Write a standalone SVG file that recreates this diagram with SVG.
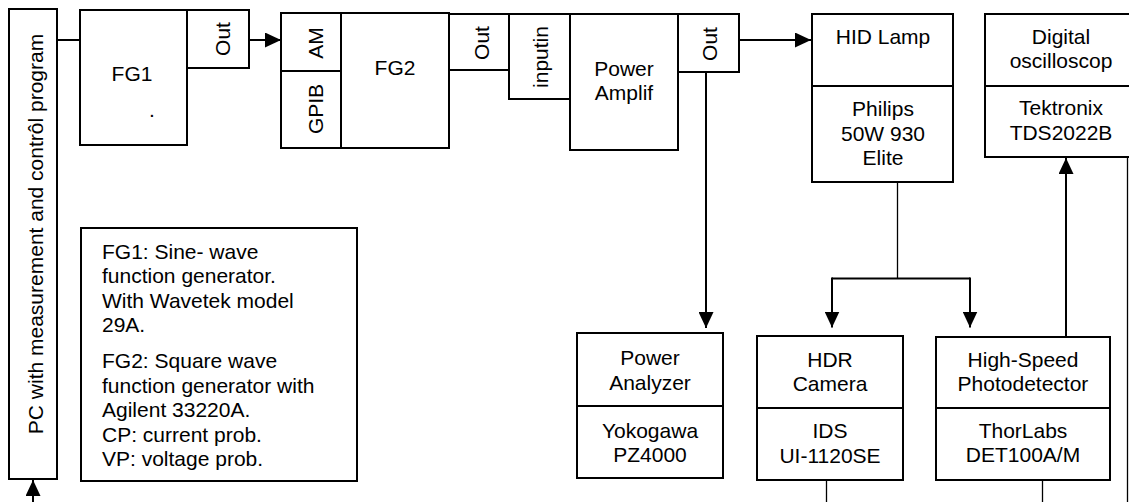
<svg xmlns="http://www.w3.org/2000/svg" width="1129" height="502" viewBox="0 0 1129 502">
<style>
  .box{fill:#fff;stroke:#000;stroke-width:2}
  .div{stroke:#000;stroke-width:2}
  text{font-family:"Liberation Sans",Arial,sans-serif;font-size:21px;fill:#000}
  .c{text-anchor:middle}
  .w{fill:none;stroke:#000;stroke-width:2}
  .t{fill:none;stroke:#000;stroke-width:1.3}
</style>
<defs>
  <marker id="ah" markerUnits="userSpaceOnUse" markerWidth="16" markerHeight="15" refX="16" refY="7.5" orient="auto">
    <path d="M0,0 L16,7.5 L0,15 z" fill="#000"/>
  </marker>
</defs>
<rect width="1129" height="502" fill="#fff"/>

<g id="connectors">
  <line class="w" x1="57" y1="40" x2="80" y2="40"/>
  <line class="w" x1="249" y1="40" x2="281" y2="40" marker-end="url(#ah)"/>
  <line class="w" x1="739" y1="40" x2="811" y2="40" marker-end="url(#ah)"/>
  <line class="w" x1="706" y1="72" x2="706" y2="328" marker-end="url(#ah)"/>
  <line class="t" x1="897.5" y1="182" x2="897.5" y2="278"/>
  <path class="w" d="M832,278.5 H970"/>
  <line class="w" x1="832" y1="277.5" x2="832" y2="327.5" marker-end="url(#ah)"/>
  <line class="w" x1="970" y1="277.5" x2="970" y2="327.5" marker-end="url(#ah)"/>
  <line class="w" x1="1066" y1="337" x2="1066" y2="158" marker-end="url(#ah)"/>
  <line class="t" x1="1127.5" y1="157" x2="1127.5" y2="502"/>
  <line class="t" x1="826.5" y1="480" x2="826.5" y2="502"/>
  <line class="t" x1="1042.5" y1="480" x2="1042.5" y2="502"/>
  <line class="w" x1="33" y1="502" x2="33" y2="480" marker-end="url(#ah)"/>
</g>

<g id="pc">
  <rect class="box" x="9" y="9" width="48" height="470"/>
  <text class="c" transform="translate(43,234) rotate(-90)">PC with measurement and contrôl program</text>
</g>

<g id="fg1">
  <rect class="box" x="80" y="10" width="107" height="135"/>
  <text class="c" x="132" y="81">FG1</text>
  <text x="149" y="117">.</text>
</g>

<g id="fg1-out">
  <rect class="box" x="187" y="10" width="62" height="58"/>
  <text class="c" transform="translate(230,39) rotate(-90)">Out</text>
</g>

<g id="fg2-inputs">
  <rect class="box" x="281" y="13" width="60" height="135"/>
  <line class="div" x1="281" y1="71" x2="341" y2="71"/>
  <text class="c" transform="translate(323,43) rotate(-90)">AM</text>
  <text class="c" transform="translate(323,109) rotate(-90)">GPIB</text>
</g>

<g id="fg2">
  <rect class="box" x="341" y="13" width="108" height="135"/>
  <text class="c" x="395" y="75">FG2</text>
</g>

<g id="fg2-out">
  <rect class="box" x="449" y="14" width="60" height="56"/>
  <text class="c" transform="translate(489,43) rotate(-90)">Out</text>
</g>

<g id="amp-in">
  <rect class="box" x="509" y="14" width="61" height="85"/>
  <text class="c" transform="translate(548,57) rotate(-90)">inputin</text>
</g>

<g id="amp">
  <rect class="box" x="570" y="14" width="108" height="136"/>
  <text class="c" x="624" y="76">Power</text>
  <text class="c" x="624" y="100">Amplif</text>
</g>

<g id="amp-out">
  <rect class="box" x="678" y="14" width="61" height="58"/>
  <text class="c" transform="translate(717,44) rotate(-90)">Out</text>
</g>

<g id="hid">
  <rect class="box" x="812" y="14" width="141" height="168"/>
  <line class="div" x1="812" y1="86" x2="953" y2="86"/>
  <text class="c" x="883" y="44">HID Lamp</text>
  <text class="c" x="883" y="116">Philips</text>
  <text class="c" x="883" y="141">50W 930</text>
  <text class="c" x="883" y="165">Elite</text>
</g>

<g id="osc">
  <rect class="box" x="985" y="14" width="152" height="143"/>
  <line class="div" x1="985" y1="86" x2="1137" y2="86"/>
  <text class="c" x="1061" y="44">Digital</text>
  <text class="c" x="1061" y="68">oscilloscop</text>
  <text class="c" x="1061" y="115">Tektronix</text>
  <text class="c" x="1061" y="140">TDS2022B</text>
</g>

<g id="pa">
  <rect class="box" x="577" y="333" width="146" height="145"/>
  <line class="div" x1="577" y1="406" x2="723" y2="406"/>
  <text class="c" x="650" y="365">Power</text>
  <text class="c" x="650" y="390">Analyzer</text>
  <text class="c" x="650" y="438">Yokogawa</text>
  <text class="c" x="650" y="462">PZ4000</text>
</g>

<g id="cam">
  <rect class="box" x="757" y="336" width="146" height="144"/>
  <line class="div" x1="757" y1="408" x2="903" y2="408"/>
  <text class="c" x="830" y="367">HDR</text>
  <text class="c" x="830" y="391">Camera</text>
  <text class="c" x="830" y="438">IDS</text>
  <text class="c" x="830" y="463">UI-1120SE</text>
</g>

<g id="pd">
  <rect class="box" x="936" y="337" width="174" height="143"/>
  <line class="div" x1="936" y1="408" x2="1110" y2="408"/>
  <text class="c" x="1023" y="367">High-Speed</text>
  <text class="c" x="1023" y="391">Photodetector</text>
  <text class="c" x="1023" y="438">ThorLabs</text>
  <text class="c" x="1023" y="462">DET100A/M</text>
</g>

<g id="legend">
  <rect class="box" x="81" y="228" width="276" height="253"/>
  <text x="102" y="259">FG1: Sine- wave</text>
  <text x="102" y="283">function generator.</text>
  <text x="102" y="308">With Wavetek model</text>
  <text x="102" y="332">29A.</text>
  <text x="102" y="368">FG2: Square wave</text>
  <text x="102" y="393">function generator with</text>
  <text x="102" y="417">Agilent 33220A.</text>
  <text x="102" y="442">CP: current prob.</text>
  <text x="102" y="466">VP: voltage prob.</text>
</g>
</svg>
